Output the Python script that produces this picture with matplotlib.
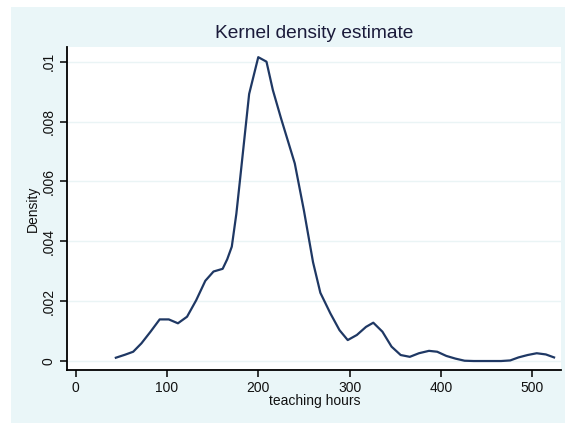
import matplotlib
matplotlib.use("Agg")
import matplotlib.pyplot as plt
from matplotlib.patches import Rectangle

hours = [44, 54, 63, 72, 82, 92, 102, 112, 122, 132, 142, 151, 161, 166, 171,
         176, 180, 190, 200, 209, 216, 225, 233, 240, 250, 260, 268, 279, 289,
         298, 308, 318, 326, 336, 346, 356, 366, 376, 387, 396, 406, 416, 426,
         436, 446, 456, 466, 476, 485, 495, 505, 515, 524]
density = [.00011, .00021, .00031, .00059, .00098, .00139, .00139, .00126,
           .00148, .00203, .00268, .00299, .00308, .0034, .00382, .00492,
           .00605, .00892, .01015, .0100, .00905, .0081, .0073, .0066, .00503,
           .0033, .00228, .00159, .00103, .0007, .00087, .00114, .00128,
           .00098, .00048, .0002, .00014, .00026, .00034, .00031, .00017,
           .00008, .00001, 0, 0, 0, 0, .00002, .00012, .0002, .00026, .00022,
           .00012]
xticks = [0, 100, 200, 300, 400, 500]
xticklabels = ["0", "100", "200", "300", "400", "500"]
yticks = [0, .002, .004, .006, .008, .01]
yticklabels = ["0", ".002", ".004", ".006", ".008", ".01"]

plt.rcParams["font.family"] = ["Liberation Sans", "DejaVu Sans"]
TXT = "#111111"

W, H = 565, 424
fig = plt.figure(figsize=(W / 100, H / 100), dpi=100, facecolor="white")
bg = Rectangle((11 / W, 1 / H), 554 / W, 416 / H,
               transform=fig.transFigure, facecolor="#EAF6F8",
               edgecolor="none", zorder=-10)
fig.add_artist(bg)

ax = fig.add_axes([67 / W, (H - 370) / H, (561 - 67) / W, (370 - 47) / H])
ax.set_zorder(1)
ax.set_facecolor("white")
ax.plot(hours, density, color="#1f3864", lw=1.6, zorder=3)
ax.set_xlim(-9.5, 531.6)
ax.set_ylim(-0.0003, 0.01049)
ax.set_xticks(xticks)
ax.set_xticklabels(xticklabels, fontsize=10, color=TXT)
ax.set_yticks(yticks)
ax.set_yticklabels(yticklabels, fontsize=10, rotation=90, va="center",
                   color=TXT)
for y in yticks:
    ax.axhline(y, color="#EAF4F5", lw=1, zorder=1)
for s in ["top", "right"]:
    ax.spines[s].set_visible(False)
for s in ["left", "bottom"]:
    ax.spines[s].set_linewidth(1.3)
ax.tick_params(direction="out", length=5, width=1.1, pad=3)
ax.set_xlabel("teaching hours", fontsize=10, color=TXT)
ax.xaxis.set_label_coords(0.501, -0.074)
ax.set_ylabel("Density", fontsize=10, color=TXT)
ax.yaxis.set_label_coords(-0.054, 0.5)
fig.text(314 / W, (H - 34) / H, "Kernel density estimate", ha="center",
         va="center", fontsize=13.8, color="#1a1a3a")

fig.savefig("out.png", dpi=100, facecolor="white")
